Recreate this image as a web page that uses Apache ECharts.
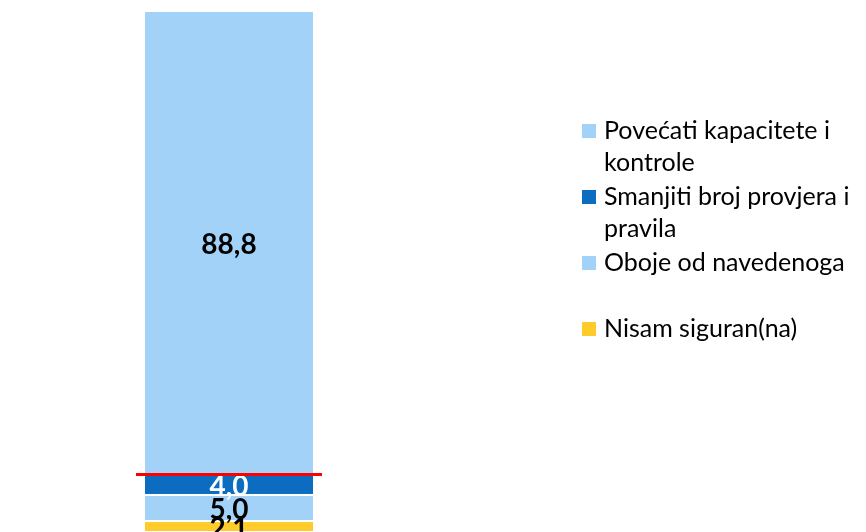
<!DOCTYPE html>
<html>
<head>
<meta charset="utf-8">
<script src="https://cdn.jsdelivr.net/npm/echarts@6/dist/echarts.min.js"></script>
<style>
  html, body { margin: 0; padding: 0; background: #fff; }
  #main { width: 866px; height: 532px; }
</style>
</head>
<body>
<div id="main"></div>
<script>
// stacked from the bottom up
var seriesNames = ['Nisam siguran(na)', 'Oboje od navedenoga', 'Smanjiti broj provjera i pravila', 'Povećati kapacitete i kontrole']
var seriesValues = [2.1, 5.0, 4.0, 88.8]
var seriesColors = ['#FFCB2B', '#A3D2F8', '#0B6CC0', '#A3D2F8']
var labelColors = ['#000', '#000', '#fff', '#000']
// legend text as wrapped in the picture
var legendLabels = {
  'Povećati kapacitete i kontrole': 'Povećati kapacitete i\nkontrole',
  'Smanjiti broj provjera i pravila': 'Smanjiti broj provjera i\npravila',
  'Oboje od navedenoga': 'Oboje od navedenoga\n',
  'Nisam siguran(na)': 'Nisam siguran(na)\n'
}
var category = ['']
// red line sits on top of the first three segments
var redLineValue = seriesValues[0] + seriesValues[1] + seriesValues[2]

var chart = echarts.init(document.getElementById('main'))

var series = []
for (var i = 0; i < seriesNames.length; i++) {
  var s = {
    name: seriesNames[i],
    type: 'bar',
    stack: 'total',
    barWidth: 170,
    data: [seriesValues[i]],
    itemStyle: { color: seriesColors[i], borderColor: '#fff', borderWidth: 1 },
    label: {
      show: true,
      position: 'inside',
      offset: [0, 2],
      color: labelColors[i],
      fontFamily: 'Lato',
      fontWeight: 'bold',
      fontSize: 28,
      formatter: function (p) { return p.value.toFixed(1).replace('.', ',') }
    }
  }
  if (i == seriesNames.length - 1) {
    s.markLine = {
      silent: true,
      symbol: 'none',
      label: { show: false },
      lineStyle: { color: '#FF0000', width: 3, type: 'solid' },
      data: [{ yAxis: redLineValue }]
    }
  }
  series.push(s)
}

var option = {
  animation: false,
  textStyle: { fontFamily: 'Lato' },
  grid: { left: 136, width: 186, top: 11, height: 522 },
  xAxis: { type: 'category', data: category, show: false },
  yAxis: { type: 'value', min: 0, max: 99.9, show: false },
  legend: {
    orient: 'vertical',
    left: 582,
    top: 115,
    padding: 0,
    itemWidth: 17,
    itemHeight: 64,
    itemGap: 2,
    icon: 'path://M0,0M17,64M0,9h14v14h-14z',
    itemStyle: { borderWidth: 0 },
    data: seriesNames.slice().reverse(),
    formatter: function (name) { return legendLabels[name] },
    textStyle: { fontFamily: 'Lato', fontSize: 25, lineHeight: 32, color: '#000' }
  },
  series: series
}
chart.setOption(option)
</script>
</body>
</html>
